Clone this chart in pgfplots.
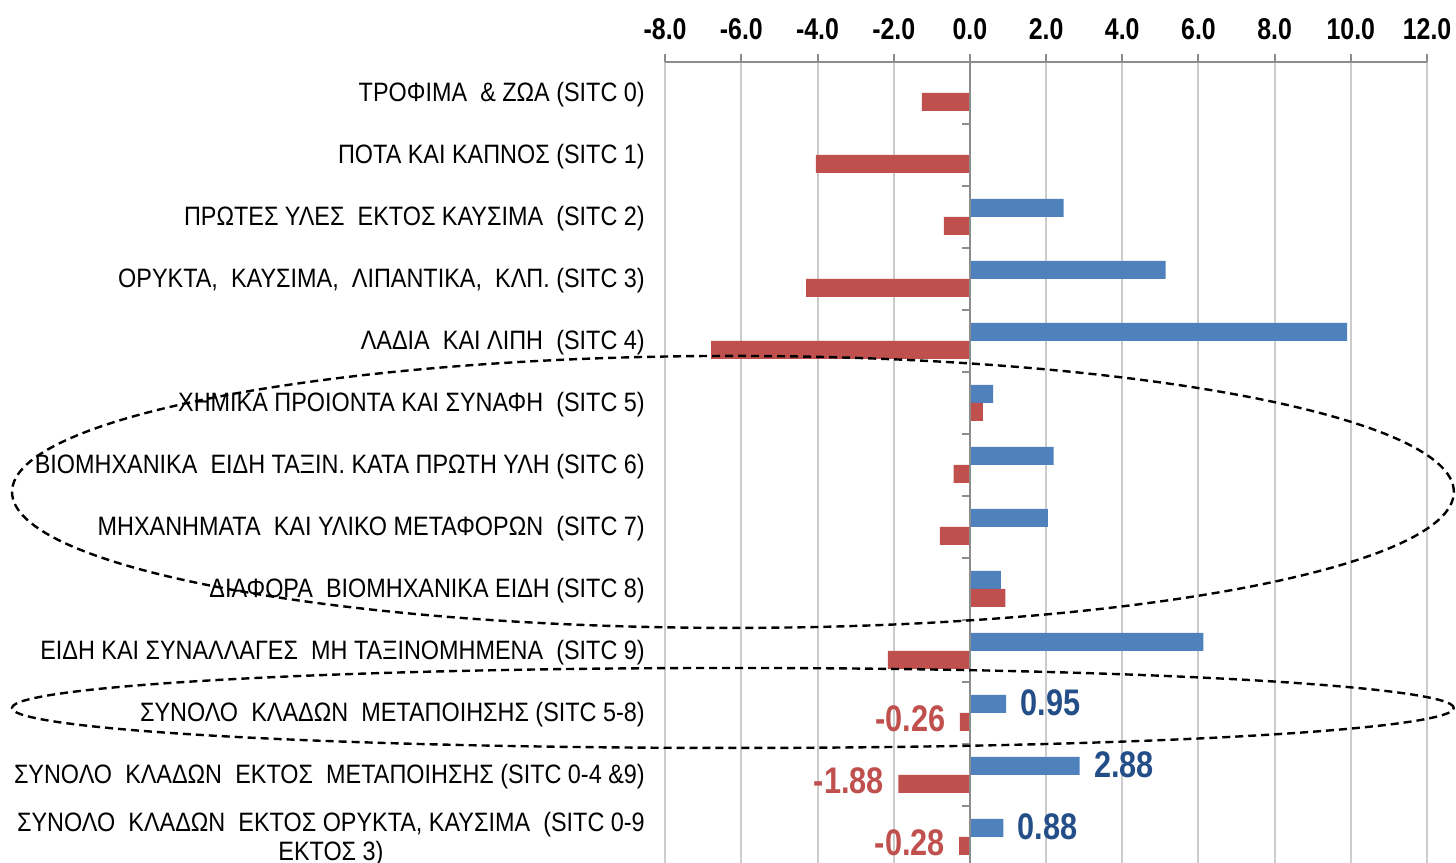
\documentclass[border=0pt]{standalone}
\usepackage{pgfplots}
\pgfplotsset{compat=1.18}
\usepackage{fontspec}
\setmainfont{Liberation Sans}
\newfontfamily\narrowfont{Liberation Sans}[FakeStretch=0.88]
\newfontfamily\condfont{Liberation Sans}[FakeStretch=0.83]

\definecolor{barblue}{HTML}{4F81BD}
\definecolor{barred}{HTML}{C0504D}
\definecolor{lblblue}{HTML}{234E88}
\definecolor{lblred}{HTML}{C0504D}
\definecolor{gridgray}{HTML}{CCCCCC}
\definecolor{axgray}{HTML}{8C8C8C}

\newcommand{\xs}{\hspace{0.25em}}

\begin{document}
\begin{tikzpicture}
\begin{axis}[
    xbar,
    x=19.05pt, y=31pt,
    xmin=-8, xmax=12,
    ymin=-12.42, ymax=0.5,
    clip=false,
    axis x line*=top,
    axis y line*=left,
    x axis line style={draw=axgray, line width=1pt, -},
    y axis line style={draw=none},
    xtick={-8,-6,...,12},
    xtick style={draw=axgray, line width=1pt},
    tick align=outside,
    major tick length=4pt,
    xmajorgrids,
    grid style={gridgray, line width=1pt},
    ytick={0,-1,...,-12},
    ytick style={draw=none},
    yticklabels={
        {ΤΡΟΦΙΜΑ\xs\ \& ΖΩΑ (SITC 0)},
        {ΠΟΤΑ ΚΑΙ ΚΑΠΝΟΣ (SITC 1)},
        {ΠΡΩΤΕΣ ΥΛΕΣ\xs\ ΕΚΤΟΣ ΚΑΥΣΙΜΑ\xs\ (SITC 2)},
        {ΟΡΥΚΤΑ,\xs\ ΚΑΥΣΙΜΑ,\xs\ ΛΙΠΑΝΤΙΚΑ,\xs\ ΚΛΠ. (SITC 3)},
        {ΛΑΔΙΑ\xs\ ΚΑΙ ΛΙΠΗ\xs\ (SITC 4)},
        {ΧΗΜΙΚΑ ΠΡΟΙΟΝΤΑ ΚΑΙ ΣΥΝΑΦΗ\xs\ (SITC 5)},
        {ΒΙΟΜΗΧΑΝΙΚΑ\xs\ ΕΙΔΗ ΤΑΞΙΝ. ΚΑΤΑ ΠΡΩΤΗ ΥΛΗ (SITC 6)},
        {ΜΗΧΑΝΗΜΑΤΑ\xs\ ΚΑΙ ΥΛΙΚΟ ΜΕΤΑΦΟΡΩΝ\xs\ (SITC 7)},
        {ΔΙΑΦΟΡΑ\xs\ ΒΙΟΜΗΧΑΝΙΚΑ ΕΙΔΗ (SITC 8)},
        {ΕΙΔΗ ΚΑΙ ΣΥΝΑΛΛΑΓΕΣ\xs\ ΜΗ ΤΑΞΙΝΟΜΗΜΕΝΑ\xs\ (SITC 9)},
        {ΣΥΝΟΛΟ\xs\ ΚΛΑΔΩΝ\xs\ ΜΕΤΑΠΟΙΗΣΗΣ (SITC 5-8)},
        {ΣΥΝΟΛΟ\xs\ ΚΛΑΔΩΝ\xs\ ΕΚΤΟΣ\xs\ ΜΕΤΑΠΟΙΗΣΗΣ (SITC 0-4 \&9)},
        {ΣΥΝΟΛΟ\xs\ ΚΛΑΔΩΝ\xs\ ΕΚΤΟΣ ΟΡΥΚΤΑ, ΚΑΥΣΙΜΑ\xs\ (SITC 0-9\\ΕΚΤΟΣ 3)}
    },
    yticklabel style={font=\narrowfont\fontsize{13.3}{14.5}\selectfont, align=center,
        inner sep=0pt, xshift=-6pt, yshift=-1pt},
    xticklabel style={font=\condfont\bfseries\fontsize{15}{15}\selectfont,
        inner sep=0pt, yshift=7pt},
    /pgf/number format/assume math mode=true,
    xticklabel={\pgfmathprintnumber[fixed, fixed zerofill, precision=1]{\tick}},
    bar width=9pt,
]
% blue series (upper bar)
\addplot[fill=barblue, draw=none, bar shift=4.5pt] coordinates {
    (2.46,-2) (5.14,-3) (9.90,-4) (0.61,-5) (2.20,-6) (2.05,-7) (0.81,-8) (6.13,-9)
};
% red series (lower bar)
\addplot[fill=barred, draw=none, bar shift=-4.5pt] coordinates {
    (-1.26,0) (-4.04,-1) (-0.68,-2) (-4.30,-3) (-6.79,-4) (0.34,-5) (-0.43,-6)
    (-0.79,-7) (0.93,-8) (-2.15,-9)
};
% totals with value labels
\addplot[fill=barblue, draw=none, bar shift=4.5pt,
    nodes near coords,
    nodes near coords style={anchor=west, inner sep=0pt, xshift=7pt, yshift=0.5pt,
        text=lblblue, font=\condfont\bfseries\fontsize{18.5}{18.5}\selectfont,
        /pgf/number format/.cd, fixed, fixed zerofill, precision=2}]
    coordinates {(0.95,-10) (2.88,-11) (0.88,-12)};
\addplot[fill=barred, draw=none, bar shift=-4.5pt,
    nodes near coords,
    nodes near coords style={anchor=east, inner sep=0pt, xshift=-7pt, yshift=1.5pt,
        text=lblred, font=\condfont\bfseries\fontsize{18.5}{18.5}\selectfont,
        /pgf/number format/.cd, fixed, fixed zerofill, precision=2}]
    coordinates {(-0.26,-10) (-1.88,-11) (-0.28,-12)};

% zero line with category separators
\draw[axgray, line width=1pt] (axis cs:0,0.5) -- (axis cs:0,-12.42);
\pgfplotsinvokeforeach{-0.5,-1.5,-2.5,-3.5,-4.5,-5.5,-6.5,-7.5,-8.5,-9.5,-10.5,-11.5}{
    \draw[axgray, line width=1pt] (axis cs:0,#1) -- (axis cs:-0.21,#1);
}

% dashed highlight ellipses
\draw[black, line width=1.2pt, dash pattern=on 4pt off 2.5pt]
    (axis cs:-6.22,-6.435) ellipse [x radius=360.5pt, y radius=68pt];
\draw[black, line width=1.2pt, dash pattern=on 4pt off 2.5pt]
    (axis cs:-6.22,-9.92) ellipse [x radius=360.5pt, y radius=20pt];

\coordinate (bbA) at (axis cs:-25.46,-12.42);
\coordinate (bbB) at (axis cs:12.76,1.5);
\end{axis}
\pgfresetboundingbox
\useasboundingbox (bbA) rectangle (bbB);
\end{tikzpicture}
\end{document}
